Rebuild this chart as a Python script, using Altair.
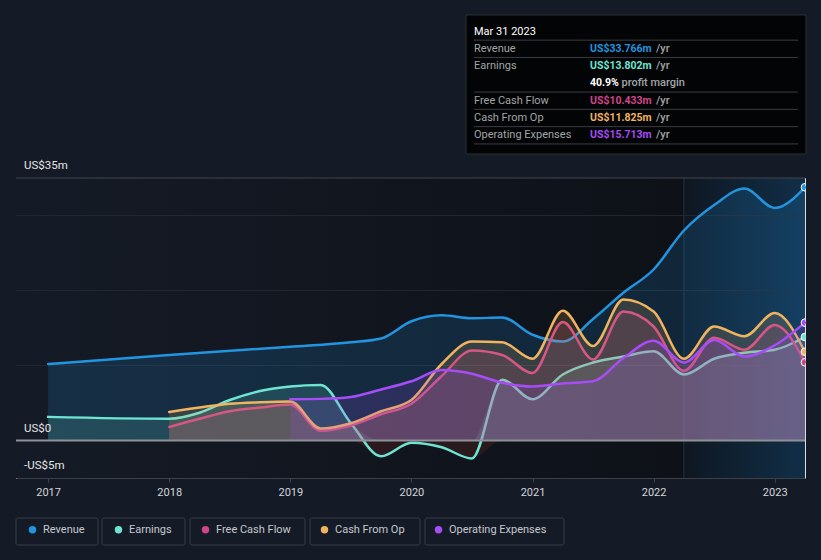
import altair as alt
import pandas as pd

# ---------------- data ----------------
series_names = ["Revenue", "Earnings", "Free Cash Flow", "Cash From Op", "Operating Expenses"]
series_colors = ["#2394df", "#6ee5d3", "#d0458a", "#f0b360", "#a64df5"]

rev_t = [2017.0, 2018.0, 2019.0, 2019.5, 2019.75, 2020.0, 2020.25, 2020.5, 2020.75, 2021.0,
         2021.25, 2021.5, 2021.75, 2022.0, 2022.25, 2022.5, 2022.75, 2023.0, 2023.25]
rev_v = [10.2, 11.4, 12.5, 13.1, 13.6, 15.9, 16.7, 16.3, 16.4, 14.1,
         13.2, 16.2, 19.7, 22.8, 28.0, 31.4, 33.6, 31.0, 33.766]

earn_t = [2017.0, 2018.0, 2018.25, 2018.5, 2018.75, 2019.0, 2019.25, 2019.5, 2019.75, 2020.0,
          2020.25, 2020.5, 2020.75, 2021.0, 2021.25, 2021.5, 2021.75, 2022.0, 2022.25, 2022.5,
          2022.75, 2023.0, 2023.25]
earn_v = [3.15, 2.9, 3.7, 5.4, 6.6, 7.2, 7.4, 2.3, -2.1, -0.3,
          -0.9, -2.4, 8.1, 5.5, 8.8, 10.4, 11.2, 11.9, 8.8, 10.9,
          11.7, 12.1, 13.802]

fcf_t = [2018.0, 2018.25, 2018.5, 2018.75, 2019.0, 2019.25, 2019.5, 2019.75, 2020.0, 2020.25,
         2020.5, 2020.75, 2021.0, 2021.25, 2021.5, 2021.75, 2022.0, 2022.25, 2022.5, 2022.75,
         2023.0, 2023.25]
fcf_v = [1.8, 2.9, 3.9, 4.4, 4.8, 1.3, 2.0, 3.5, 4.9, 8.6,
         12.0, 11.4, 9.0, 15.8, 10.8, 17.2, 15.2, 9.3, 13.7, 12.1,
         15.4, 10.433]

cfo_t = [2018.0, 2018.25, 2018.5, 2018.75, 2019.0, 2019.25, 2019.5, 2019.75, 2020.0, 2020.25,
         2020.5, 2020.75, 2021.0, 2021.25, 2021.5, 2021.75, 2022.0, 2022.25, 2022.5, 2022.75,
         2023.0, 2023.25]
cfo_v = [3.8, 4.4, 4.9, 5.1, 5.2, 1.6, 2.3, 3.9, 5.4, 10.2,
         13.2, 13.1, 10.9, 17.3, 12.6, 18.8, 17.2, 10.9, 15.2, 13.9,
         17.0, 11.825]

opex_t = [2019.0, 2019.25, 2019.5, 2019.75, 2020.0, 2020.25, 2020.5, 2020.75, 2021.0, 2021.25,
          2021.5, 2021.75, 2022.0, 2022.25, 2022.5, 2022.75, 2023.0, 2023.25]
opex_v = [5.5, 5.55, 5.8, 6.8, 7.9, 9.4, 8.9, 7.7, 7.2, 7.6,
          7.9, 11.0, 13.3, 10.4, 13.4, 11.2, 12.7, 15.713]

year_ticks = [2017, 2018, 2019, 2020, 2021, 2022, 2023]
grid_vals = [10, 20, 30]
top_val = [35]
zero_val = [0]
y_label_vals = [35, 0, -5]
y_label_text = ["US$35m", "US$0", "-US$5m"]
x_domain = [2016.735, 2023.25]
y_domain = [-5, 35]
forecast_start = [2022.25]
forecast_end = [2023.25]

tt_title = "Mar 31 2023"
tt_labels = ["Revenue", "Earnings", "", "Free Cash Flow", "Cash From Op", "Operating Expenses"]
tt_values = ["US$33.766m", "US$13.802m", "40.9%", "US$10.433m", "US$11.825m", "US$15.713m"]
tt_suffix = ["/yr", "/yr", "profit margin", "/yr", "/yr", "/yr"]
tt_colors = ["#2394df", "#6ee5d3", "#ffffff", "#d0458a", "#f0b360", "#a64df5"]
tt_sep_rows = [0.5, 1.5, 3.5, 4.5, 5.5, 6.5]

# ---------------- tables ----------------
rows = []
for name, ts, vs in zip(series_names, [rev_t, earn_t, fcf_t, cfo_t, opex_t],
                        [rev_v, earn_v, fcf_v, cfo_v, opex_v]):
    for t, v in zip(ts, vs):
        rows.append({"series": name, "t": t, "v": v})
df = pd.DataFrame(rows)

W, H = 789, 300
FONT = "Roboto"
PAGE_BG = "#151b26"

xs = alt.Scale(domain=x_domain, nice=False, zero=False)
ys = alt.Scale(domain=y_domain, nice=False, zero=False)
x_axis = alt.Axis(values=year_ticks, format="d", grid=False, domainColor="#3c4149",
                  tickColor="#3c4149", tickSize=4, labelColor="#d4d6da", labelFontSize=11,
                  labelFont=FONT, labelPadding=4, title=None)


def X(field):
    return alt.X(field, type="quantitative", scale=xs, axis=x_axis, title=None)


def Y(field):
    return alt.Y(field, type="quantitative", scale=ys, axis=None, title=None)


layers = []

# plot background: fades from page colour to darker toward the right
bg_df = pd.DataFrame({"s": [x_domain[0]], "e": [x_domain[1]], "lo": [y_domain[0]], "hi": [y_domain[1]]})
bg_grad = alt.Gradient(gradient="linear", x1=0, x2=1, y1=0, y2=0,
                       stops=[alt.GradientStop(color=PAGE_BG, offset=0),
                              alt.GradientStop(color="#0c0f15", offset=1)])
layers.append(alt.Chart(bg_df).mark_rect(fill=bg_grad).encode(
    x=X("s"), x2="e:Q", y=Y("hi"), y2="lo:Q"))

# forecast highlight band
grad = alt.Gradient(gradient="linear", x1=0, x2=1, y1=0, y2=0,
                    stops=[alt.GradientStop(color="rgba(30,120,190,0.06)", offset=0),
                           alt.GradientStop(color="rgba(30,120,190,0.30)", offset=1)])
band_df = pd.DataFrame({"s": forecast_start, "e": forecast_end, "lo": [y_domain[0]], "hi": [y_domain[1]]})
layers.append(alt.Chart(band_df).mark_rect(fill=grad).encode(
    x=X("s"), x2="e:Q", y=Y("hi"), y2="lo:Q"))
layers.append(alt.Chart(band_df).mark_rule(color="#1d3446", strokeWidth=1).encode(x=X("s")))

# gridlines
layers.append(alt.Chart(pd.DataFrame({"g": grid_vals})).mark_rule(color="#22272f", strokeWidth=1)
              .encode(y=Y("g")))
layers.append(alt.Chart(pd.DataFrame({"g": top_val})).mark_rule(color="#40454d", strokeWidth=1)
              .encode(y=Y("g")))

base = alt.Chart(df)
for name, col in zip(series_names, series_colors):
    sub = base.transform_filter(alt.datum.series == name)
    if name == "Earnings":
        layers.append(sub.transform_calculate(p="max(datum.v, 0)", z="0")
                      .mark_area(fill=col, fillOpacity=0.16, interpolate="monotone")
                      .encode(x=X("t"), y=Y("p"), y2="z:Q"))
        layers.append(sub.transform_calculate(n="min(datum.v, 0)", z="0")
                      .mark_area(fill="#c0392b", fillOpacity=0.15, interpolate="monotone")
                      .encode(x=X("t"), y=Y("n"), y2="z:Q"))
    else:
        layers.append(sub.transform_calculate(z="0")
                      .mark_area(fill=col, fillOpacity=0.17, interpolate="monotone")
                      .encode(x=X("t"), y=Y("v"), y2="z:Q"))
    layers.append(sub.mark_line(stroke=col, strokeWidth=2.5, interpolate="monotone",
                                strokeCap="round")
                  .encode(x=X("t"), y=Y("v")))

# zero line
layers.append(alt.Chart(pd.DataFrame({"g": zero_val})).mark_rule(color="#8e9196", strokeWidth=2)
              .encode(y=Y("g")))

# end points + legend
layers.append(base.transform_filter("datum.t == 2023.25")
              .mark_circle(size=60, opacity=1, stroke="#ffffff", strokeWidth=1, clip=True)
              .encode(x=X("t"), y=Y("v"),
                      color=alt.Color("series:N",
                                      scale=alt.Scale(domain=series_names, range=series_colors),
                                      legend=alt.Legend(orient="none", legendX=11, legendY=346,
                                                        direction="horizontal", title=None,
                                                        symbolType="circle", symbolSize=55,
                                                        symbolStrokeWidth=0, symbolOpacity=1,
                                                        labelColor="#c5c8cd", labelFontSize=11,
                                                        labelFont=FONT, columnPadding=28,
                                                        labelOffset=5, padding=0))))

# y labels
layers.append(alt.Chart(pd.DataFrame({"g": y_label_vals, "txt": y_label_text}))
              .mark_text(align="left", baseline="middle", dy=-12, fontSize=11.5,
                         color="#e6e6e6", font=FONT)
              .encode(x=alt.value(8), y=Y("g"), text="txt:N"))

# ---------------- legend item frames (decoration, pixel placed) ----------------
one = pd.DataFrame({"a": [0]})
legend_box_left = [0, 86, 174, 294, 409]
legend_box_right = [82, 169, 289, 404, 548]
for bl, br in zip(legend_box_left, legend_box_right):
    layers.append(alt.Chart(one).mark_rect(fill="transparent", stroke="#393e47", strokeWidth=1,
                                           cornerRadius=2)
                  .encode(x=alt.value(bl), x2=alt.value(br), y=alt.value(340), y2=alt.value(367)))

# ---------------- tooltip box (annotation, pixel placed) ----------------
ROW0, ROWH = -146.5, 17.3


def row_y(r):
    return ROW0 + ROWH * r


layers.append(alt.Chart(one).mark_rect(fill="#030405", stroke="#2c2f33", strokeWidth=1)
              .encode(x=alt.value(450), x2=alt.value(790), y=alt.value(-163), y2=alt.value(-24)))
for r in tt_sep_rows:
    layers.append(alt.Chart(one).mark_rule(color="#3a3d42", strokeWidth=1)
                  .encode(x=alt.value(458), x2=alt.value(782), y=alt.value(row_y(r))))
layers.append(alt.Chart(one).mark_text(align="left", baseline="middle", fontSize=11,
                                       color="#ffffff", font=FONT, text=tt_title)
              .encode(x=alt.value(458), y=alt.value(row_y(0))))
for i, (lab, val, suf, col) in enumerate(zip(tt_labels, tt_values, tt_suffix, tt_colors), start=1):
    yy = alt.value(row_y(i))
    if lab:
        layers.append(alt.Chart(one).mark_text(align="left", baseline="middle", fontSize=11,
                                               color="#a2a4a8", font=FONT, text=lab)
                      .encode(x=alt.value(458), y=yy))
    layers.append(alt.Chart(one).mark_text(align="left", baseline="middle", fontSize=10.5,
                                           fontWeight="bold", color=col, font=FONT, text=val)
                  .encode(x=alt.value(574), y=yy))
    layers.append(alt.Chart(one).mark_text(align="left", baseline="middle", fontSize=11,
                                           fontWeight=500, color="#a2a4a8", font=FONT, text=suf)
                  .encode(x=alt.value(640 if suf == "/yr" else 605.5), y=yy))

chart = (alt.layer(*layers)
         .properties(width=W, height=H,
                     autosize=alt.AutoSizeParams(type="none"),
                     padding={"left": 8, "top": 170, "right": 8, "bottom": 74},
                     background=PAGE_BG)
         .configure_view(stroke="transparent", strokeWidth=0, fill="transparent")
         .configure(font=FONT))

chart.save("out.html", embed_options={"renderer": "svg", "actions": False,
                                      "defaultStyle": "body{background:#151b26;}"})
